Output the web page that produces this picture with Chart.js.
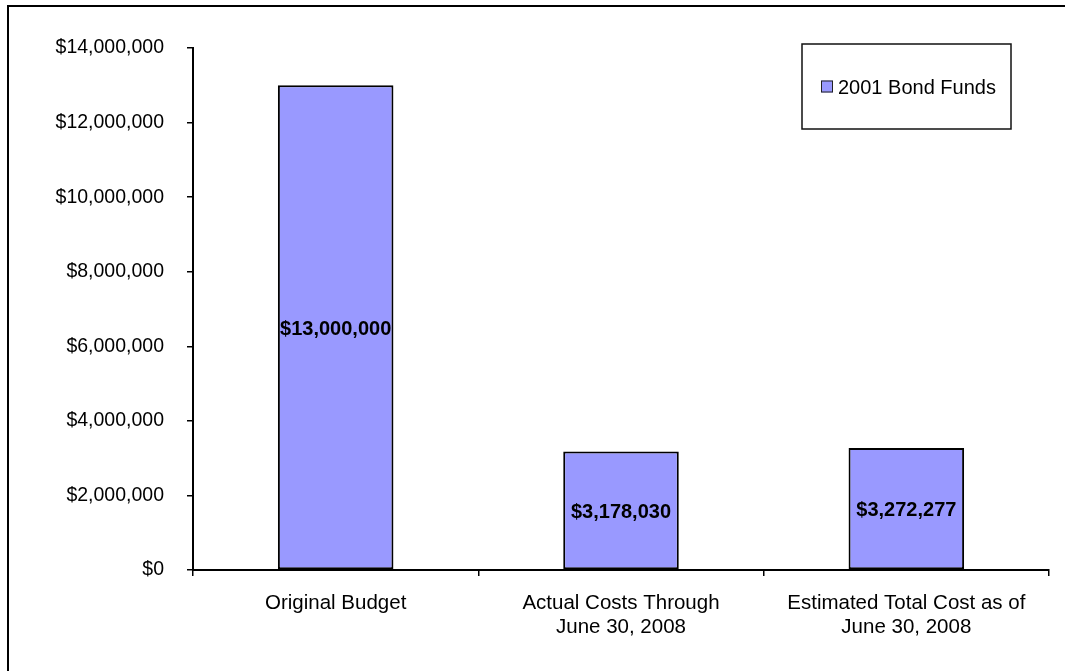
<!DOCTYPE html>
<html>
<head>
<meta charset="utf-8">
<script src="https://cdn.jsdelivr.net/npm/chart.js@4.4.1/dist/chart.umd.min.js"></script>
<style>
  html, body { margin: 0; padding: 0; background: #fff; }
  #wrap { position: relative; width: 1065px; height: 671px; }
</style>
</head>
<body>
<div id="wrap"><canvas id="chart"></canvas></div>
<script>
const categories = [
  'Original Budget',
  ['Actual Costs Through', 'June 30, 2008'],
  ['Estimated Total Cost as of', 'June 30, 2008']
]
const seriesLabel = '2001 Bond Funds'
const bondFunds = [13000000, 3178030, 3272277]
const yTicks = { min: 0, max: 14000000, step: 2000000 }

const money = v => '$' + Math.round(v).toLocaleString('en-US')

// frame around the whole chart (right/bottom edges run off the canvas)
const frame = {
  id: 'frame',
  afterDraw(chart) {
    const ctx = chart.ctx
    ctx.save()
    ctx.strokeStyle = '#000'
    ctx.lineWidth = 2
    ctx.strokeRect(8, 6, chart.width + 20, chart.height + 20)
    ctx.restore()
  }
}

// value printed in the middle of each bar
const barValues = {
  id: 'barValues',
  afterDatasetsDraw(chart) {
    const ctx = chart.ctx
    const meta = chart.getDatasetMeta(0)
    ctx.save()
    ctx.font = 'bold 20px "Liberation Sans", Arial, sans-serif'
    ctx.fillStyle = '#000'
    ctx.textAlign = 'center'
    ctx.textBaseline = 'middle'
    meta.data.forEach((bar, i) => {
      const mid = (bar.y + bar.base) / 2 + 2
      ctx.fillText(money(chart.data.datasets[0].data[i]), bar.x, mid)
    })
    ctx.restore()
  }
}

// boxed legend in the upper right of the plot
const boxLegend = {
  id: 'boxLegend',
  afterDraw(chart) {
    const ctx = chart.ctx
    const area = chart.chartArea
    const ds = chart.data.datasets[0]
    const w = 209, h = 85
    const x = area.right - 38 - w
    const y = area.top - 4
    ctx.save()
    ctx.fillStyle = '#fff'
    ctx.fillRect(x, y, w, h)
    ctx.strokeStyle = '#111'
    ctx.lineWidth = 1.5
    ctx.strokeRect(x, y, w, h)
    const cy = y + h / 2
    ctx.fillStyle = ds.backgroundColor
    ctx.fillRect(x + 19, cy - 6, 12, 12)
    ctx.strokeStyle = '#222'
    ctx.lineWidth = 1
    ctx.strokeRect(x + 19.5, cy - 5.5, 11, 11)
    ctx.fillStyle = '#000'
    ctx.font = '20px "Liberation Sans", Arial, sans-serif'
    ctx.textBaseline = 'middle'
    ctx.fillText(ds.label, x + 36, cy + 2)
    ctx.restore()
  }
}

new Chart(document.getElementById('chart'), {
  type: 'bar',
  data: {
    labels: categories,
    datasets: [{
      label: seriesLabel,
      data: bondFunds,
      backgroundColor: '#9999FF',
      borderColor: '#000',
      borderWidth: 2,
      borderSkipped: false,
      barPercentage: 0.405,
      categoryPercentage: 1
    }]
  },
  options: {
    responsive: true,
    maintainAspectRatio: false,
    animation: false,
    layout: { padding: { left: 0, right: 16, top: 48, bottom: 0 } },
    plugins: {
      legend: { display: false },
      tooltip: { enabled: false }
    },
    scales: {
      x: {
        afterFit: scale => { scale.height = 101 },
        grid: {
          offset: true,
          drawOnChartArea: false,
          drawTicks: true,
          tickLength: 6,
          color: '#000',
          lineWidth: 1.5
        },
        border: { display: true, color: '#000', width: 2 },
        ticks: {
          color: '#000',
          padding: 16,
          maxRotation: 0,
          font: { family: '"Liberation Sans", Arial, sans-serif', size: 20.5, lineHeight: 1.15 }
        }
      },
      y: {
        min: yTicks.min,
        max: yTicks.max,
        afterFit: scale => { scale.width = 193 },
        grid: {
          drawOnChartArea: false,
          drawTicks: true,
          tickLength: 6,
          color: '#000',
          lineWidth: 1.5
        },
        border: { display: true, color: '#000', width: 2 },
        ticks: {
          stepSize: yTicks.step,
          color: '#000',
          padding: 23,
          font: { family: '"Liberation Sans", Arial, sans-serif', size: 19.5 },
          callback: v => money(v)
        }
      }
    }
  },
  plugins: [frame, barValues, boxLegend]
})
</script>
</body>
</html>
